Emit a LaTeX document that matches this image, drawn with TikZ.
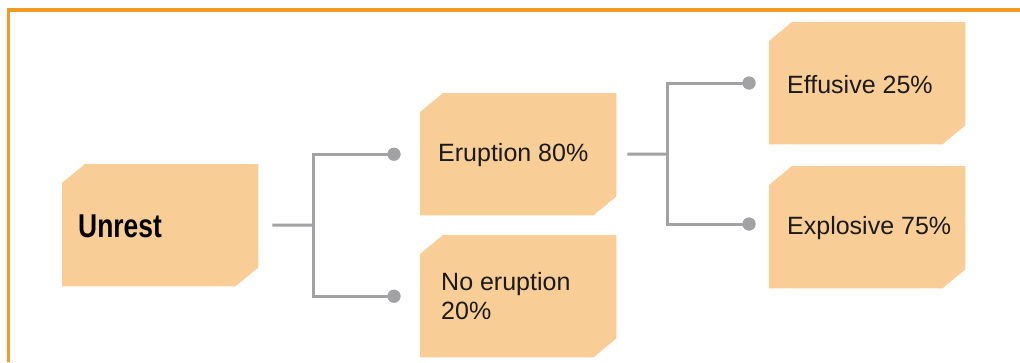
\documentclass[tikz,border=0pt]{standalone}
\usepackage{fontspec}
\setmainfont{Liberation Sans}
\newfontfamily\condbold[FakeStretch=0.8]{Liberation Sans Bold}
\usetikzlibrary{calc}
\definecolor{boxfill}{HTML}{F9CD96}
\definecolor{frameor}{HTML}{F29A25}
\definecolor{linegray}{HTML}{A2A2A4}
\definecolor{txt}{HTML}{1A1A1A}
\tikzset{
  boxshape/.style={inner sep=0pt, minimum width=196pt, minimum height=122pt, anchor=north west},
  lbl/.style={anchor=west, inner sep=0pt, text=txt, font=\fontsize{25}{29}\selectfont, align=left},
  conn/.style={draw=linegray, line width=3pt},
  dotnode/.style={circle, fill=linegray, inner sep=0pt, minimum size=13pt},
}
\newcommand{\chamferbox}[1]{%
  \fill[boxfill] ($(#1.north west)+(0,19)$) -- ($(#1.north west)+(23,0)$) -- (#1.north east)
    -- ($(#1.south east)+(0,-19)$) -- ($(#1.south east)+(-23,0)$) -- (#1.south west) -- cycle;}
\begin{document}
\begin{tikzpicture}[x=1pt,y=-1pt]
\useasboundingbox (0,0) rectangle (1020,362);
% frame
\draw[frameor, line width=3.2pt] (8.6,362) -- (8.6,10) -- (1020,10);
% boxes
\node[boxshape] (unrest) at (62,164) {};
\node[boxshape] (erupt) at (420,93) {};
\node[boxshape] (noerupt) at (420,235) {};
\node[boxshape] (effus) at (769,22) {};
\node[boxshape] (explo) at (769,166) {};
\chamferbox{unrest}
\chamferbox{erupt}
\chamferbox{noerupt}
\chamferbox{effus}
\chamferbox{explo}
% labels
\node[lbl, font=\condbold\fontsize{33}{36}\selectfont, text=black] (tunrest) at ($(unrest.west)+(16,1)$) {Unrest};
\node[lbl] (terupt) at ($(erupt.west)+(18,1)$) {Eruption 80\%};
\node[lbl] (tnoerupt) at ($(noerupt.west)+(21,0)$) {No eruption\\20\%};
\node[lbl] (teffus) at ($(effus.west)+(18,1)$) {Effusive 25\%};
\node[lbl] (texplo) at ($(explo.west)+(18,1)$) {Explosive 75\%};
% connectors level 1
\coordinate (s1) at ($(unrest.east)+(14,0)$);
\coordinate (j1) at (313,225);
\node[dotnode] (d1) at ($(erupt.west)+(-26,0)$) {};
\node[dotnode] (d2) at ($(noerupt.west)+(-26,0)$) {};
\draw[conn] (s1) -- (j1);
\draw[conn] (d1.center) -| (j1) |- (d2.center);
% connectors level 2
\coordinate (s2) at ($(erupt.east)+(11,0)$);
\coordinate (j2) at (667,154);
\node[dotnode] (d3) at (749,83) {};
\node[dotnode] (d4) at (749,224) {};
\draw[conn] (s2) -- (j2);
\draw[conn] (d3.center) -| (j2) |- (d4.center);
\node[dotnode] at (d1) {};
\node[dotnode] at (d2) {};
\node[dotnode] at (d3) {};
\node[dotnode] at (d4) {};
\end{tikzpicture}
\end{document}
